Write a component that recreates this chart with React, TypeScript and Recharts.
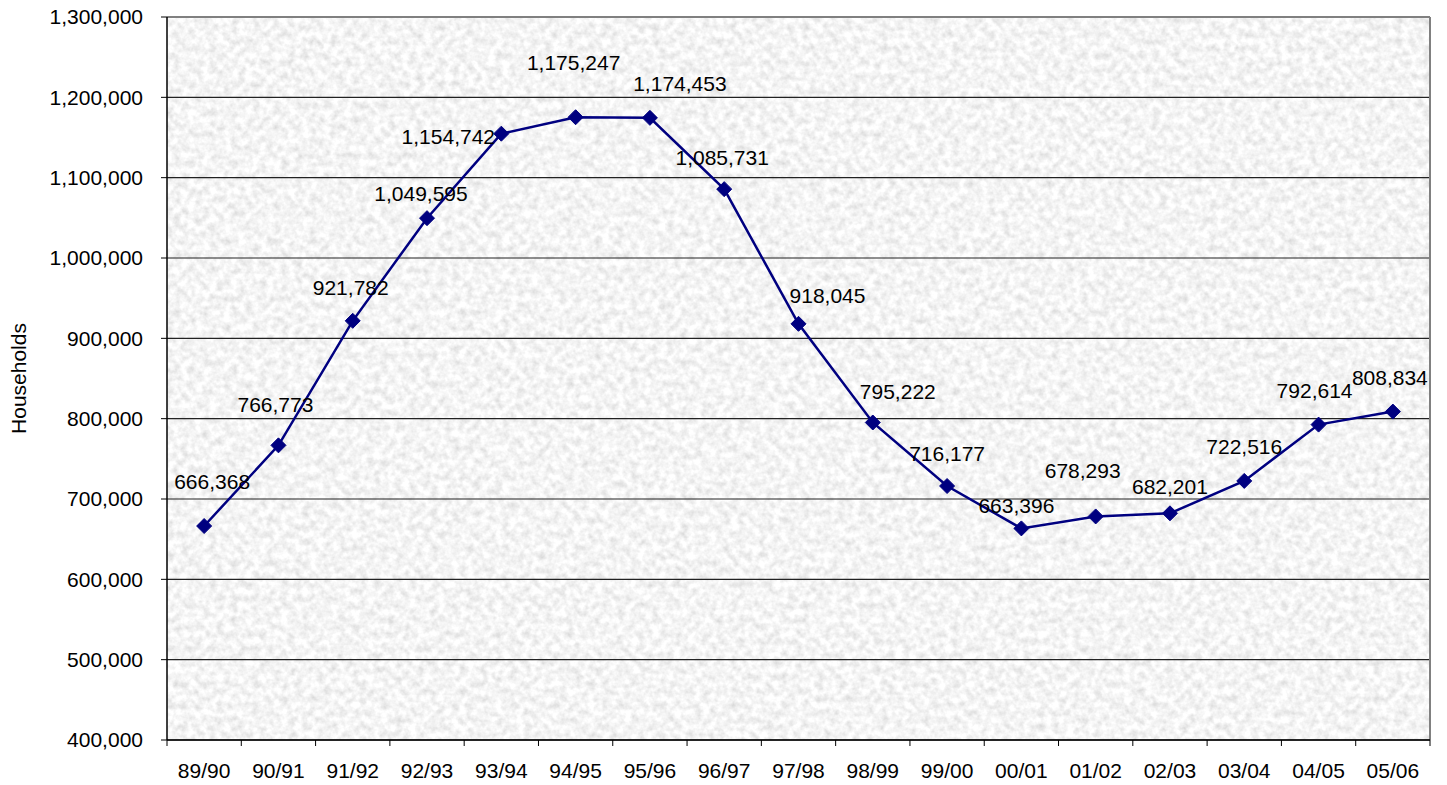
import React from 'react';
import {
  LineChart,
  Line,
  XAxis,
  YAxis,
  CartesianGrid,
  ReferenceLine,
  LabelList,
} from 'recharts';

const CATEGORIES = [
  '89/90', '90/91', '91/92', '92/93', '93/94', '94/95', '95/96', '96/97', '97/98',
  '98/99', '99/00', '00/01', '01/02', '02/03', '03/04', '04/05', '05/06',
];

const HOUSEHOLDS = [
  666368, 766773, 921782, 1049595, 1154742, 1175247, 1174453, 1085731, 918045,
  795222, 716177, 663396, 678293, 682201, 722516, 792614, 808834,
];

const Y_TICKS = [400000, 500000, 600000, 700000, 800000, 900000, 1000000, 1100000, 1200000, 1300000];

// where each data label sits relative to its point (moved by hand in the original)
const LABEL_OFFSETS: [number, number][] = [
  [8, -45], [-3, -41], [-2, -33], [-6, -25], [-53, 3], [-2, -55], [30, -34], [-2, -32],
  [29, -28], [25, -31], [0, -33], [-5, -23], [-13, -46], [0, -27], [0, -34], [-4, -34], [-3, -34],
];

const WIDTH = 1447;
const HEIGHT = 785;
const PLOT_LEFT = 167;
const PLOT_RIGHT = 1430;
const PLOT_TOP = 17;
const PLOT_BOTTOM = 740;
const STEP = (PLOT_RIGHT - PLOT_LEFT) / CATEGORIES.length;
const FONT = '"Liberation Sans", Arial, sans-serif';
const NAVY = '#000080';

const data = CATEGORIES.map((name, i) => ({ idx: i, name, value: HOUSEHOLDS[i] }));
const boundaries = CATEGORIES.map((_, i) => i - 0.5).concat(CATEGORIES.length - 0.5);

const fmt = (v: number) => v.toLocaleString('en-US');

function CategoryTick({ x, y, payload }: any) {
  const i = Math.round(payload.value + 0.5);
  if (i >= CATEGORIES.length) return null;
  return (
    <text x={x + STEP / 2} y={y} dy="0.71em" textAnchor="middle" fontSize={21} fontFamily={FONT} fill="#000">
      {CATEGORIES[i]}
    </text>
  );
}

function Diamond({ cx, cy, index }: any) {
  const r = 7.5;
  return (
    <path
      key={index}
      d={`M${cx},${cy - r} L${cx + r},${cy} L${cx},${cy + r} L${cx - r},${cy} Z`}
      fill={NAVY}
      stroke={NAVY}
    />
  );
}

function ValueLabel({ x, y, value, index }: any) {
  const [dx, dy] = LABEL_OFFSETS[index] || [0, -30];
  return (
    <text
      x={x + dx}
      y={y + dy}
      textAnchor="middle"
      dominantBaseline="central"
      fontSize={21}
      fontFamily={FONT}
      fill="#000"
    >
      {fmt(value)}
    </text>
  );
}

function AxisTitle({ viewBox }: any) {
  const cx = 18;
  const cy = viewBox.y + viewBox.height / 2;
  return (
    <text
      x={cx}
      y={cy}
      transform={`rotate(-90 ${cx} ${cy})`}
      textAnchor="middle"
      dominantBaseline="central"
      fontSize={21}
      fontFamily={FONT}
      fill="#000"
    >
      Households
    </text>
  );
}

export default function App() {
  return (
    <div style={{ position: 'absolute', left: 0, top: 0, width: WIDTH, height: HEIGHT, background: '#fff' }}>
      <LineChart
        width={WIDTH}
        height={HEIGHT}
        data={data}
        margin={{ top: PLOT_TOP, right: WIDTH - PLOT_RIGHT, bottom: 0, left: 0 }}
      >
        <defs>
          <filter id="granite" x="0" y="0" width="100%" height="100%">
            <feTurbulence type="fractalNoise" baseFrequency="0.14" numOctaves="3" seed="7" />
            <feColorMatrix
              type="matrix"
              values="0.5 0 0 0 0.66  0.5 0 0 0 0.66  0.5 0 0 0 0.66  0 0 0 0 1"
            />
          </filter>
          <pattern
            id="texture"
            patternUnits="userSpaceOnUse"
            x={PLOT_LEFT}
            y={PLOT_TOP}
            width={PLOT_RIGHT - PLOT_LEFT}
            height={PLOT_BOTTOM - PLOT_TOP}
          >
            <rect
              width={PLOT_RIGHT - PLOT_LEFT}
              height={PLOT_BOTTOM - PLOT_TOP}
              fill="#e8e8e8"
              filter="url(#granite)"
            />
          </pattern>
        </defs>
        <CartesianGrid vertical={false} stroke="#222" strokeWidth={1.2} fill="url(#texture)" fillOpacity={1} />
        <XAxis
          dataKey="idx"
          type="number"
          domain={[-0.5, CATEGORIES.length - 0.5]}
          ticks={boundaries}
          interval={0}
          height={HEIGHT - PLOT_BOTTOM}
          tick={<CategoryTick />}
          tickSize={6}
          tickMargin={17}
          stroke="#000"
          tickLine={{ stroke: '#000' }}
          axisLine={{ stroke: '#000', strokeWidth: 1.5 }}
        />
        <YAxis
          type="number"
          domain={[400000, 1300000]}
          ticks={Y_TICKS}
          interval={0}
          width={PLOT_LEFT}
          tickFormatter={fmt}
          tickSize={6}
          tickMargin={18}
          tick={{ fill: '#000', fontSize: 21, fontFamily: FONT }}
          tickLine={{ stroke: '#000' }}
          axisLine={{ stroke: '#000', strokeWidth: 1.5 }}
          label={<AxisTitle />}
        />
        <ReferenceLine y={1300000} stroke="#808080" strokeWidth={2} />
        <ReferenceLine x={CATEGORIES.length - 0.5} stroke="#808080" strokeWidth={2} />
        <Line
          type="linear"
          dataKey="value"
          stroke={NAVY}
          strokeWidth={2.5}
          dot={<Diamond />}
          activeDot={false}
          isAnimationActive={false}
        >
          <LabelList dataKey="value" content={<ValueLabel />} />
        </Line>
      </LineChart>
    </div>
  );
}
